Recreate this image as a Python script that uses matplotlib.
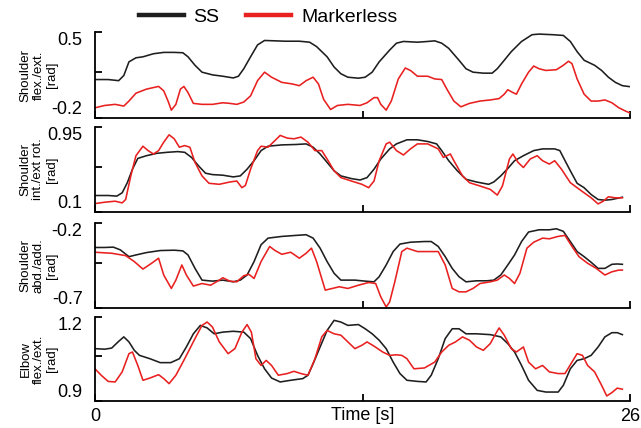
import matplotlib
matplotlib.use("Agg")
import matplotlib.pyplot as plt
from matplotlib.lines import Line2D

plt.rcParams["font.family"] = ["Liberation Sans", "DejaVu Sans"]

SS_COLOR = "#1e1e1e"
ML_COLOR = "#e8201f"

# ---- Shoulder flexion / extension [rad] ----
t_sfe_ss = [0, 0.64, 1.15, 1.40, 1.65, 1.99, 2.33, 2.84, 3.34, 3.85,
            4.27, 4.52, 4.86, 5.20, 5.71, 6.21, 6.72, 6.97, 7.23, 7.56,
            7.90, 8.24, 8.75, 9.25, 9.93, 10.43, 10.77, 11.28, 11.62, 11.95,
            12.29, 12.80, 13.13, 13.47, 13.81, 14.32, 14.65, 14.99, 15.67, 16.17,
            16.51, 16.85, 17.19, 17.69, 18.03, 18.37, 18.87, 19.30, 19.55, 19.89,
            20.23, 20.73, 21.24, 21.58, 22.25, 22.76, 23.10, 23.43, 23.77, 24.28,
            24.62, 24.95, 25.29, 25.63, 26.0]
sfe_ss = [0.113, 0.113, 0.104, 0.146, 0.257, 0.290, 0.298, 0.323, 0.334, 0.334,
          0.331, 0.298, 0.229, 0.173, 0.151, 0.140, 0.126, 0.140, 0.201, 0.298,
          0.395, 0.431, 0.428, 0.425, 0.425, 0.417, 0.381, 0.298, 0.215, 0.160,
          0.132, 0.124, 0.132, 0.173, 0.257, 0.353, 0.409, 0.423, 0.417, 0.423,
          0.428, 0.409, 0.367, 0.270, 0.201, 0.173, 0.165, 0.165, 0.201, 0.270,
          0.340, 0.423, 0.478, 0.483, 0.478, 0.472, 0.423, 0.340, 0.270, 0.229,
          0.187, 0.132, 0.090, 0.063, 0.055]
t_sfe_ml = [0, 0.47, 0.98, 1.40, 1.65, 1.99, 2.50, 3.09, 3.34, 3.55,
            3.71, 3.93, 4.15, 4.32, 4.52, 4.78, 5.20, 5.71, 6.21, 6.55,
            6.89, 7.23, 7.56, 7.90, 8.24, 8.58, 9.08, 9.59, 9.93, 10.26,
            10.60, 10.86, 11.11, 11.45, 11.78, 12.29, 12.88, 13.22, 13.56, 13.73,
            13.89, 14.15, 14.40, 14.74, 15.08, 15.33, 15.67, 16.17, 16.51, 16.85,
            17.10, 17.44, 17.78, 18.20, 18.71, 19.21, 19.64, 19.89, 20.06, 20.31,
            20.48, 20.73, 21.07, 21.32, 21.58, 21.91, 22.42, 22.76, 23.01, 23.18,
            23.43, 23.77, 24.11, 24.45, 24.78, 25.12, 25.46, 25.80, 26.0]
sfe_ml = [-0.117, -0.098, -0.089, -0.103, -0.062, 0.002, 0.035, 0.057, 0.021, -0.062,
          -0.136, -0.089, 0.035, 0.057, 0.007, -0.081, -0.089, -0.089, -0.076, -0.081,
          -0.089, -0.070, -0.020, 0.104, 0.173, 0.132, 0.090, 0.077, 0.063, 0.104,
          0.132, 0.077, -0.048, -0.131, -0.098, -0.089, -0.098, -0.076, -0.034, -0.034,
          -0.089, -0.136, -0.062, 0.118, 0.207, 0.187, 0.140, 0.140, 0.118, 0.113,
          0.035, -0.062, -0.109, -0.081, -0.062, -0.053, -0.042, -0.006, 0.030, 0.007,
          -0.006, 0.077, 0.173, 0.223, 0.201, 0.187, 0.193, 0.229, 0.262, 0.243,
          0.118, -0.006, -0.062, -0.062, -0.053, -0.076, -0.117, -0.145, -0.159]

# ---- Shoulder internal / external rotation [rad] ----
t_sie_ss = [0, 0.64, 1.06, 1.32, 1.57, 1.82, 2.08, 2.50, 3.01, 3.51,
            4.02, 4.36, 4.69, 5.03, 5.37, 5.71, 6.21, 6.72, 7.06, 7.39,
            7.73, 8.07, 8.41, 9.08, 9.76, 10.26, 10.60, 10.94, 11.28, 11.62,
            11.95, 12.46, 12.88, 13.22, 13.56, 13.89, 14.32, 14.65, 15.16, 15.67,
            16.17, 16.60, 16.85, 17.19, 17.61, 18.03, 18.54, 19.13, 19.38, 19.72,
            20.06, 20.39, 20.82, 21.32, 21.75, 22.34, 22.59, 22.76, 23.10, 23.43,
            23.77, 24.11, 24.45, 24.78, 25.12, 25.63]
sie_ss = [0.265, 0.265, 0.259, 0.292, 0.393, 0.528, 0.636, 0.663, 0.687, 0.697,
          0.704, 0.697, 0.646, 0.562, 0.488, 0.474, 0.468, 0.451, 0.461, 0.528,
          0.613, 0.714, 0.758, 0.771, 0.775, 0.781, 0.748, 0.680, 0.596, 0.512,
          0.461, 0.434, 0.420, 0.444, 0.528, 0.630, 0.731, 0.781, 0.822, 0.822,
          0.805, 0.781, 0.714, 0.613, 0.512, 0.427, 0.400, 0.377, 0.400, 0.461,
          0.535, 0.613, 0.663, 0.714, 0.731, 0.731, 0.714, 0.646, 0.512, 0.387,
          0.343, 0.275, 0.225, 0.218, 0.225, 0.248]
t_sie_ml = [0, 0.47, 0.98, 1.32, 1.49, 1.74, 1.99, 2.33, 2.58, 2.84,
            3.09, 3.34, 3.60, 3.85, 4.10, 4.36, 4.61, 4.86, 5.20, 5.54,
            6.04, 6.55, 6.89, 7.14, 7.31, 7.56, 7.90, 8.07, 8.41, 8.75,
            9.00, 9.34, 9.67, 10.01, 10.35, 10.69, 11.02, 11.28, 11.62, 11.95,
            12.46, 12.97, 13.30, 13.56, 13.81, 14.15, 14.32, 14.65, 14.99, 15.33,
            15.67, 16.17, 16.68, 16.93, 17.27, 17.44, 17.86, 18.20, 18.71, 19.21,
            19.55, 19.80, 20.14, 20.31, 20.56, 20.82, 21.15, 21.49, 21.75, 22.08,
            22.34, 22.67, 23.10, 23.43, 23.77, 24.11, 24.45, 24.70, 24.95, 25.29,
            25.63]
sie_ml = [0.184, 0.198, 0.208, 0.191, 0.225, 0.461, 0.663, 0.758, 0.714, 0.680,
          0.714, 0.798, 0.872, 0.832, 0.748, 0.764, 0.748, 0.596, 0.461, 0.387,
          0.377, 0.400, 0.410, 0.343, 0.366, 0.528, 0.714, 0.758, 0.748, 0.815,
          0.866, 0.839, 0.832, 0.849, 0.798, 0.714, 0.714, 0.630, 0.512, 0.444,
          0.410, 0.377, 0.343, 0.410, 0.613, 0.781, 0.798, 0.714, 0.670, 0.731,
          0.781, 0.781, 0.731, 0.646, 0.680, 0.613, 0.461, 0.393, 0.360, 0.326,
          0.269, 0.360, 0.630, 0.680, 0.596, 0.545, 0.630, 0.663, 0.613, 0.579,
          0.613, 0.528, 0.393, 0.343, 0.292, 0.242, 0.181, 0.208, 0.252, 0.242,
          0.242]

# ---- Shoulder abduction / adduction [rad] ----
t_saa_ss = [0, 0.47, 0.89, 1.23, 1.65, 1.99, 2.50, 3.17, 3.85, 4.27,
            4.52, 4.86, 5.20, 5.71, 6.21, 6.72, 7.06, 7.39, 7.73, 8.07,
            8.41, 9.08, 9.76, 10.26, 10.60, 10.94, 11.28, 11.62, 11.95, 12.63,
            13.13, 13.56, 13.81, 14.15, 14.49, 14.82, 15.33, 16.01, 16.34, 16.68,
            17.02, 17.36, 17.69, 18.03, 18.54, 19.04, 19.38, 19.72, 20.06, 20.39,
            20.73, 21.07, 21.58, 22.08, 22.42, 22.76, 23.10, 23.43, 23.77, 24.11,
            24.45, 24.78, 25.12, 25.38, 25.63]
saa_ss = [-0.344, -0.344, -0.342, -0.358, -0.398, -0.388, -0.374, -0.362, -0.360, -0.364,
          -0.388, -0.467, -0.536, -0.542, -0.536, -0.546, -0.536, -0.506, -0.427, -0.328,
          -0.289, -0.279, -0.273, -0.269, -0.289, -0.348, -0.427, -0.496, -0.536, -0.536,
          -0.542, -0.546, -0.516, -0.447, -0.368, -0.324, -0.313, -0.309, -0.309, -0.338,
          -0.398, -0.467, -0.516, -0.546, -0.540, -0.540, -0.536, -0.506, -0.447, -0.388,
          -0.309, -0.253, -0.240, -0.240, -0.234, -0.249, -0.309, -0.368, -0.398, -0.431,
          -0.467, -0.467, -0.443, -0.441, -0.443]
t_saa_ml = [0, 0.81, 1.49, 1.91, 2.33, 2.75, 3.09, 3.34, 3.71, 3.93,
            4.22, 4.44, 4.78, 5.20, 5.62, 6.04, 6.21, 6.55, 6.89, 7.23,
            7.48, 7.73, 8.07, 8.49, 8.75, 9.08, 9.51, 9.93, 10.26, 10.52,
            10.77, 11.19, 11.53, 11.87, 12.29, 12.80, 13.30, 13.64, 13.89, 14.15,
            14.32, 14.57, 14.91, 15.16, 15.67, 16.17, 16.68, 17.02, 17.36, 17.69,
            18.03, 18.37, 18.71, 19.21, 19.55, 19.89, 20.14, 20.39, 20.65, 20.99,
            21.32, 21.75, 22.08, 22.50, 22.84, 23.18, 23.52, 23.94, 24.36, 24.78,
            25.12, 25.46, 25.63]
saa_ml = [-0.372, -0.378, -0.392, -0.427, -0.471, -0.437, -0.407, -0.506, -0.585, -0.536,
          -0.447, -0.506, -0.571, -0.556, -0.566, -0.536, -0.522, -0.542, -0.546, -0.510,
          -0.502, -0.526, -0.427, -0.338, -0.362, -0.384, -0.372, -0.407, -0.378, -0.348,
          -0.427, -0.595, -0.585, -0.575, -0.585, -0.566, -0.550, -0.556, -0.635, -0.694,
          -0.664, -0.546, -0.368, -0.348, -0.368, -0.368, -0.368, -0.447, -0.585, -0.605,
          -0.605, -0.585, -0.556, -0.546, -0.536, -0.506, -0.526, -0.556, -0.496, -0.348,
          -0.313, -0.289, -0.293, -0.279, -0.273, -0.338, -0.398, -0.437, -0.467, -0.506,
          -0.487, -0.477, -0.477]

# ---- Elbow flexion / extension [rad] ----
t_efe_ss = [0, 0.47, 0.81, 1.15, 1.40, 1.65, 1.91, 2.16, 2.67, 3.17,
            3.68, 4.10, 4.44, 4.78, 5.12, 5.45, 5.79, 6.21, 6.72, 7.23,
            7.56, 7.90, 8.24, 8.58, 9.00, 9.51, 10.10, 10.35, 10.60, 10.94,
            11.28, 11.62, 11.95, 12.29, 12.80, 13.13, 13.47, 13.81, 14.15, 14.49,
            14.82, 15.16, 15.67, 16.09, 16.34, 16.68, 17.02, 17.36, 17.69, 18.03,
            18.54, 19.21, 19.72, 20.06, 20.39, 20.73, 21.07, 21.49, 21.91, 22.51,
            22.76, 23.10, 23.43, 23.77, 24.11, 24.45, 24.78, 25.12, 25.38, 25.63]
efe_ss = [1.087, 1.085, 1.089, 1.113, 1.129, 1.111, 1.081, 1.063, 1.051, 1.037,
          1.037, 1.051, 1.093, 1.140, 1.170, 1.161, 1.140, 1.146, 1.149, 1.146,
          1.123, 1.063, 1.015, 0.982, 0.968, 0.974, 0.980, 0.992, 1.033, 1.093,
          1.152, 1.188, 1.182, 1.170, 1.173, 1.158, 1.140, 1.117, 1.087, 1.039,
          0.998, 0.974, 0.970, 0.968, 0.992, 1.051, 1.123, 1.158, 1.158, 1.140,
          1.140, 1.137, 1.129, 1.105, 1.075, 1.027, 0.974, 0.938, 0.932, 0.932,
          0.956, 1.015, 1.045, 1.051, 1.063, 1.093, 1.129, 1.144, 1.144, 1.137]
t_efe_ml = [0, 0.30, 0.64, 0.98, 1.32, 1.65, 1.82, 2.08, 2.33, 2.67,
            3.09, 3.34, 3.60, 3.93, 4.36, 4.86, 5.20, 5.45, 5.71, 6.04,
            6.47, 6.80, 7.14, 7.39, 7.60, 7.82, 8.07, 8.32, 8.58, 8.91,
            9.34, 9.67, 10.01, 10.35, 10.69, 11.02, 11.28, 11.62, 11.95, 12.29,
            12.63, 12.97, 13.22, 13.56, 13.98, 14.32, 14.65, 14.91, 15.16, 15.50,
            16.01, 16.51, 16.85, 17.19, 17.52, 17.86, 18.20, 18.54, 18.87, 19.21,
            19.47, 19.64, 19.89, 20.23, 20.48, 20.82, 21.07, 21.41, 21.75, 22.08,
            22.50, 22.84, 23.18, 23.43, 23.69, 23.94, 24.28, 24.62, 24.87, 25.12,
            25.38, 25.63]
efe_ml = [1.015, 0.992, 0.970, 0.968, 1.004, 1.069, 1.075, 1.027, 0.974, 0.982,
          0.994, 0.980, 0.962, 0.992, 1.051, 1.123, 1.170, 1.182, 1.164, 1.111,
          1.069, 1.087, 1.146, 1.173, 1.146, 1.051, 1.027, 1.045, 1.027, 0.992,
          0.998, 1.006, 0.998, 0.992, 1.051, 1.129, 1.152, 1.140, 1.135, 1.111,
          1.087, 1.099, 1.111, 1.096, 1.075, 1.063, 1.065, 1.063, 1.051, 1.015,
          1.018, 1.039, 1.075, 1.099, 1.111, 1.129, 1.117, 1.093, 1.081, 1.105,
          1.140, 1.161, 1.135, 1.087, 1.075, 1.093, 1.039, 1.015, 1.027, 1.004,
          0.998, 0.998, 1.039, 1.069, 1.063, 1.027, 1.004, 0.956, 0.918, 0.930,
          0.946, 0.942]

y_ranges = [(-0.2, 0.5), (0.1, 0.95), (-0.7, -0.2), (0.9, 1.2)]
y_ticklabels = [("-0.2", "0.5"), ("0.1", "0.95"), ("-0.7", "-0.2"), ("0.9", "1.2")]
y_titles = ["Shoulder\nflex./ext.\n[rad]",
            "Shoulder\nint./ext rot.\n[rad]",
            "Shoulder\nabd./add.\n[rad]",
            "Elbow\nflex./ext.\n[rad]"]
x_ticks = [0, 13, 26]
x_ticklabels = ["0", "", "26"]

series = [(t_sfe_ss, sfe_ss, t_sfe_ml, sfe_ml),
          (t_sie_ss, sie_ss, t_sie_ml, sie_ml),
          (t_saa_ss, saa_ss, t_saa_ml, saa_ml),
          (t_efe_ss, efe_ss, t_efe_ml, efe_ml)]

W, H = 641, 428
fig = plt.figure(figsize=(W / 100, H / 100), dpi=100)

left_px, right_px = 95, 630
rows_px = [(32, 118), (127, 212), (223, 308), (317, 401)]

axes = []
for i, ((ts, ys, tm, ym), (lo, hi), (lab_lo, lab_hi), title, (top, bot)) in enumerate(
        zip(series, y_ranges, y_ticklabels, y_titles, rows_px)):
    ax = fig.add_axes([left_px / W, 1 - bot / H, (right_px - left_px) / W, (bot - top) / H])
    ax.plot(ts, ys, color=SS_COLOR, lw=1.15, solid_joinstyle="round")
    ax.plot(tm, ym, color=ML_COLOR, lw=1.15, solid_joinstyle="round")
    ax.set_xlim(0, 26)
    ax.set_ylim(lo, hi)
    for s in ("top", "right"):
        ax.spines[s].set_visible(False)
    for s in ("left", "bottom"):
        ax.spines[s].set_linewidth(1.3)
    ax.tick_params(direction="in", length=5, width=1.3, labelsize=13, pad=5)
    ax.tick_params(axis="y", pad=9)
    mid = lo + 0.53 * (hi - lo)
    ax.set_yticks([lo, mid, hi])
    ax.set_yticklabels([lab_lo, "", lab_hi])
    tl = ax.get_yticklabels()
    tl[0].set_va("bottom")
    tl[2].set_va("top")
    ax.set_xticks(x_ticks)
    if i < 3:
        ax.set_xticklabels([])
    else:
        ax.set_xticklabels(x_ticklabels)
    ax.set_ylabel(title, fontsize=9.5, linespacing=1.12)
    ax.yaxis.set_label_coords(-0.07, 0.5)
    axes.append(ax)

axes[-1].set_xlabel("Time [s]", fontsize=13)
axes[-1].xaxis.set_label_coords(0.5, -0.075)

handles = [Line2D([], [], color=SS_COLOR, lw=3.2),
           Line2D([], [], color=ML_COLOR, lw=3.2)]
fig.legend(handles, ["SS", "Markerless"], loc="center", bbox_to_anchor=(268 / W, 1 - 17 / H),
           ncol=2, frameon=False, fontsize=14, handlelength=2.3,
           handletextpad=0.5, columnspacing=1.4)

fig.savefig("out.png", dpi=100)
